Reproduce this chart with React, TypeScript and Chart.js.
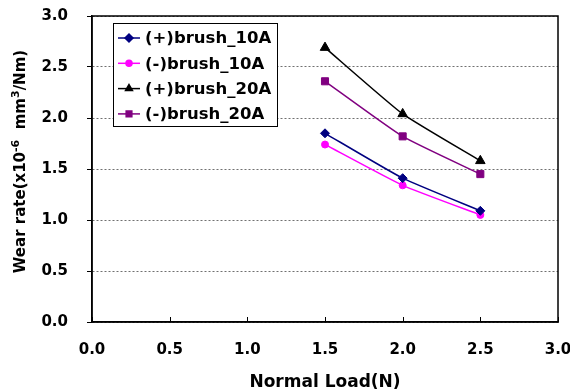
import React, { useEffect, useRef } from "react";
import { Chart, registerables } from "chart.js";
import { drawPoint } from "chart.js/helpers";

Chart.register(...registerables);

const loads = [1.5, 2.0, 2.5];
const plusBrush10A = [1.85, 1.41, 1.09];
const minusBrush10A = [1.74, 1.34, 1.05];
const plusBrush20A = [2.69, 2.04, 1.58];
const minusBrush20A = [2.36, 1.82, 1.45];
const seriesNames = ["(+)brush_10A", "(-)brush_10A", "(+)brush_20A", "(-)brush_20A"];
const xTickValues = [0, 0.5, 1.0, 1.5, 2.0, 2.5, 3.0];
const xTitle = "Normal Load(N)";
const yTitleParts = [
  { t: "Wear rate(x10", sup: false },
  { t: "-6", sup: true },
  { t: "  mm", sup: false },
  { t: "3", sup: true },
  { t: "/Nm)", sup: false },
];

const FONT = "'DejaVu Sans', sans-serif";

const overlayPlugin = {
  id: "overlay",
  afterDraw(chart: any) {
    const { ctx, chartArea } = chart;
    const { left, right, top, bottom } = chartArea;
    const xs = chart.scales.x;
    ctx.save();
    // frame
    ctx.strokeStyle = "#000";
    ctx.lineWidth = 1.5;
    ctx.setLineDash([]);
    ctx.strokeRect(left, top, right - left, bottom - top);
    // inward x ticks
    ctx.lineWidth = 1;
    xTickValues.forEach((v) => {
      const px = Math.round(xs.getPixelForValue(v)) + 0.5;
      ctx.beginPath();
      ctx.moveTo(px, bottom);
      ctx.lineTo(px, bottom - 5);
      ctx.stroke();
    });
    // legend
    const lx = 113.5, ly = 23.5, lw = 164, lh = 103;
    ctx.fillStyle = "#fff";
    ctx.fillRect(lx, ly, lw, lh);
    ctx.strokeStyle = "#000";
    ctx.lineWidth = 1;
    ctx.strokeRect(lx, ly, lw, lh);
    chart.data.datasets.forEach((ds: any, i: number) => {
      const y = 38 + i * 25.3;
      ctx.strokeStyle = ds.borderColor;
      ctx.lineWidth = 1.5;
      ctx.beginPath();
      ctx.moveTo(118, y);
      ctx.lineTo(140, y);
      ctx.stroke();
      ctx.fillStyle = ds.backgroundColor;
      ctx.strokeStyle = ds.borderColor;
      drawPoint(ctx, { pointStyle: ds.pointStyle, radius: ds.pointStyle === "circle" ? 3 : 4, rotation: 0, borderWidth: 1 }, 129, y);
      ctx.fillStyle = "#000";
      ctx.font = `bold 16.5px ${FONT}`;
      ctx.textAlign = "left";
      ctx.textBaseline = "middle";
      ctx.fillText(ds.label, 145, y + 1);
    });
    // x title
    ctx.fillStyle = "#000";
    ctx.font = `bold 17px ${FONT}`;
    ctx.textAlign = "center";
    ctx.textBaseline = "alphabetic";
    ctx.fillText(xTitle, (left + right) / 2, 387);
    // y title with superscripts
    const base = `bold 15px ${FONT}`;
    const sup = `bold 11px ${FONT}`;
    let total = 0;
    yTitleParts.forEach((p) => {
      ctx.font = p.sup ? sup : base;
      total += ctx.measureText(p.t).width;
    });
    ctx.translate(25, 161.5);
    ctx.rotate(-Math.PI / 2);
    ctx.textAlign = "left";
    let cx = -total / 2;
    yTitleParts.forEach((p) => {
      ctx.font = p.sup ? sup : base;
      ctx.fillText(p.t, cx, p.sup ? -6 : 0);
      cx += ctx.measureText(p.t).width;
    });
    ctx.restore();
  },
};

function mk(values: number[]) {
  return values.map((v, i) => ({ x: loads[i], y: v }));
}

export default function App() {
  const ref = useRef<HTMLCanvasElement>(null);
  useEffect(() => {
    document.body.style.margin = "0";
    const chart = new Chart(ref.current as HTMLCanvasElement, {
      type: "line",
      data: {
        datasets: [
          { label: seriesNames[0], data: mk(plusBrush10A), borderColor: "#000080", backgroundColor: "#000080", pointStyle: "rectRot", pointRadius: 4.5 },
          { label: seriesNames[1], data: mk(minusBrush10A), borderColor: "#FF00FF", backgroundColor: "#FF00FF", pointStyle: "circle", pointRadius: 3.5 },
          { label: seriesNames[2], data: mk(plusBrush20A), borderColor: "#000000", backgroundColor: "#000000", pointStyle: "triangle", pointRadius: 5.5 },
          { label: seriesNames[3], data: mk(minusBrush20A), borderColor: "#800080", backgroundColor: "#800080", pointStyle: "rect", pointRadius: 5 },
        ].map((d) => ({ ...d, borderWidth: 1.5, tension: 0.15, pointBorderWidth: 1, fill: false })),
      },
      options: {
        animation: false,
        responsive: false,
        layout: { padding: { left: 0, top: 16, right: 12, bottom: 0 } },
        plugins: { legend: { display: false }, tooltip: { enabled: false } },
        scales: {
          x: {
            type: "linear",
            min: 0,
            max: 3,
            afterFit: (s: any) => { s.height = 70; s.paddingLeft = 0; s.paddingRight = 0; },
            afterBuildTicks: (s: any) => { s.ticks = xTickValues.map((v) => ({ value: v })); },
            grid: { display: false, drawTicks: false },
            border: { display: true, color: "#000", width: 1.5 },
            ticks: {
              padding: 19,
              color: "#000",
              font: { family: FONT, weight: "bold", size: 15 },
              callback: (v: any) => Number(v).toFixed(1),
              maxRotation: 0,
            },
          },
          y: {
            min: 0,
            max: 3,
            afterFit: (s: any) => { s.width = 92; s.paddingTop = 0; s.paddingBottom = 0; },
            grid: {
              color: "#707070",
              lineWidth: 1,
              tickColor: "#000",
              tickBorderDash: [],
              tickLength: 5,
            },
            border: { display: true, color: "#000", width: 1.5, dash: [2, 2] },
            ticks: {
              stepSize: 0.5,
              padding: 19,
              color: "#000",
              font: { family: FONT, weight: "bold", size: 15 },
              callback: (v: any) => Number(v).toFixed(1),
            },
          },
        },
      },
      plugins: [overlayPlugin],
    } as any);
    return () => chart.destroy();
  }, []);
  return (
    <div style={{ width: 570, height: 392 }}>
      <canvas ref={ref} width={570} height={392} />
    </div>
  );
}
